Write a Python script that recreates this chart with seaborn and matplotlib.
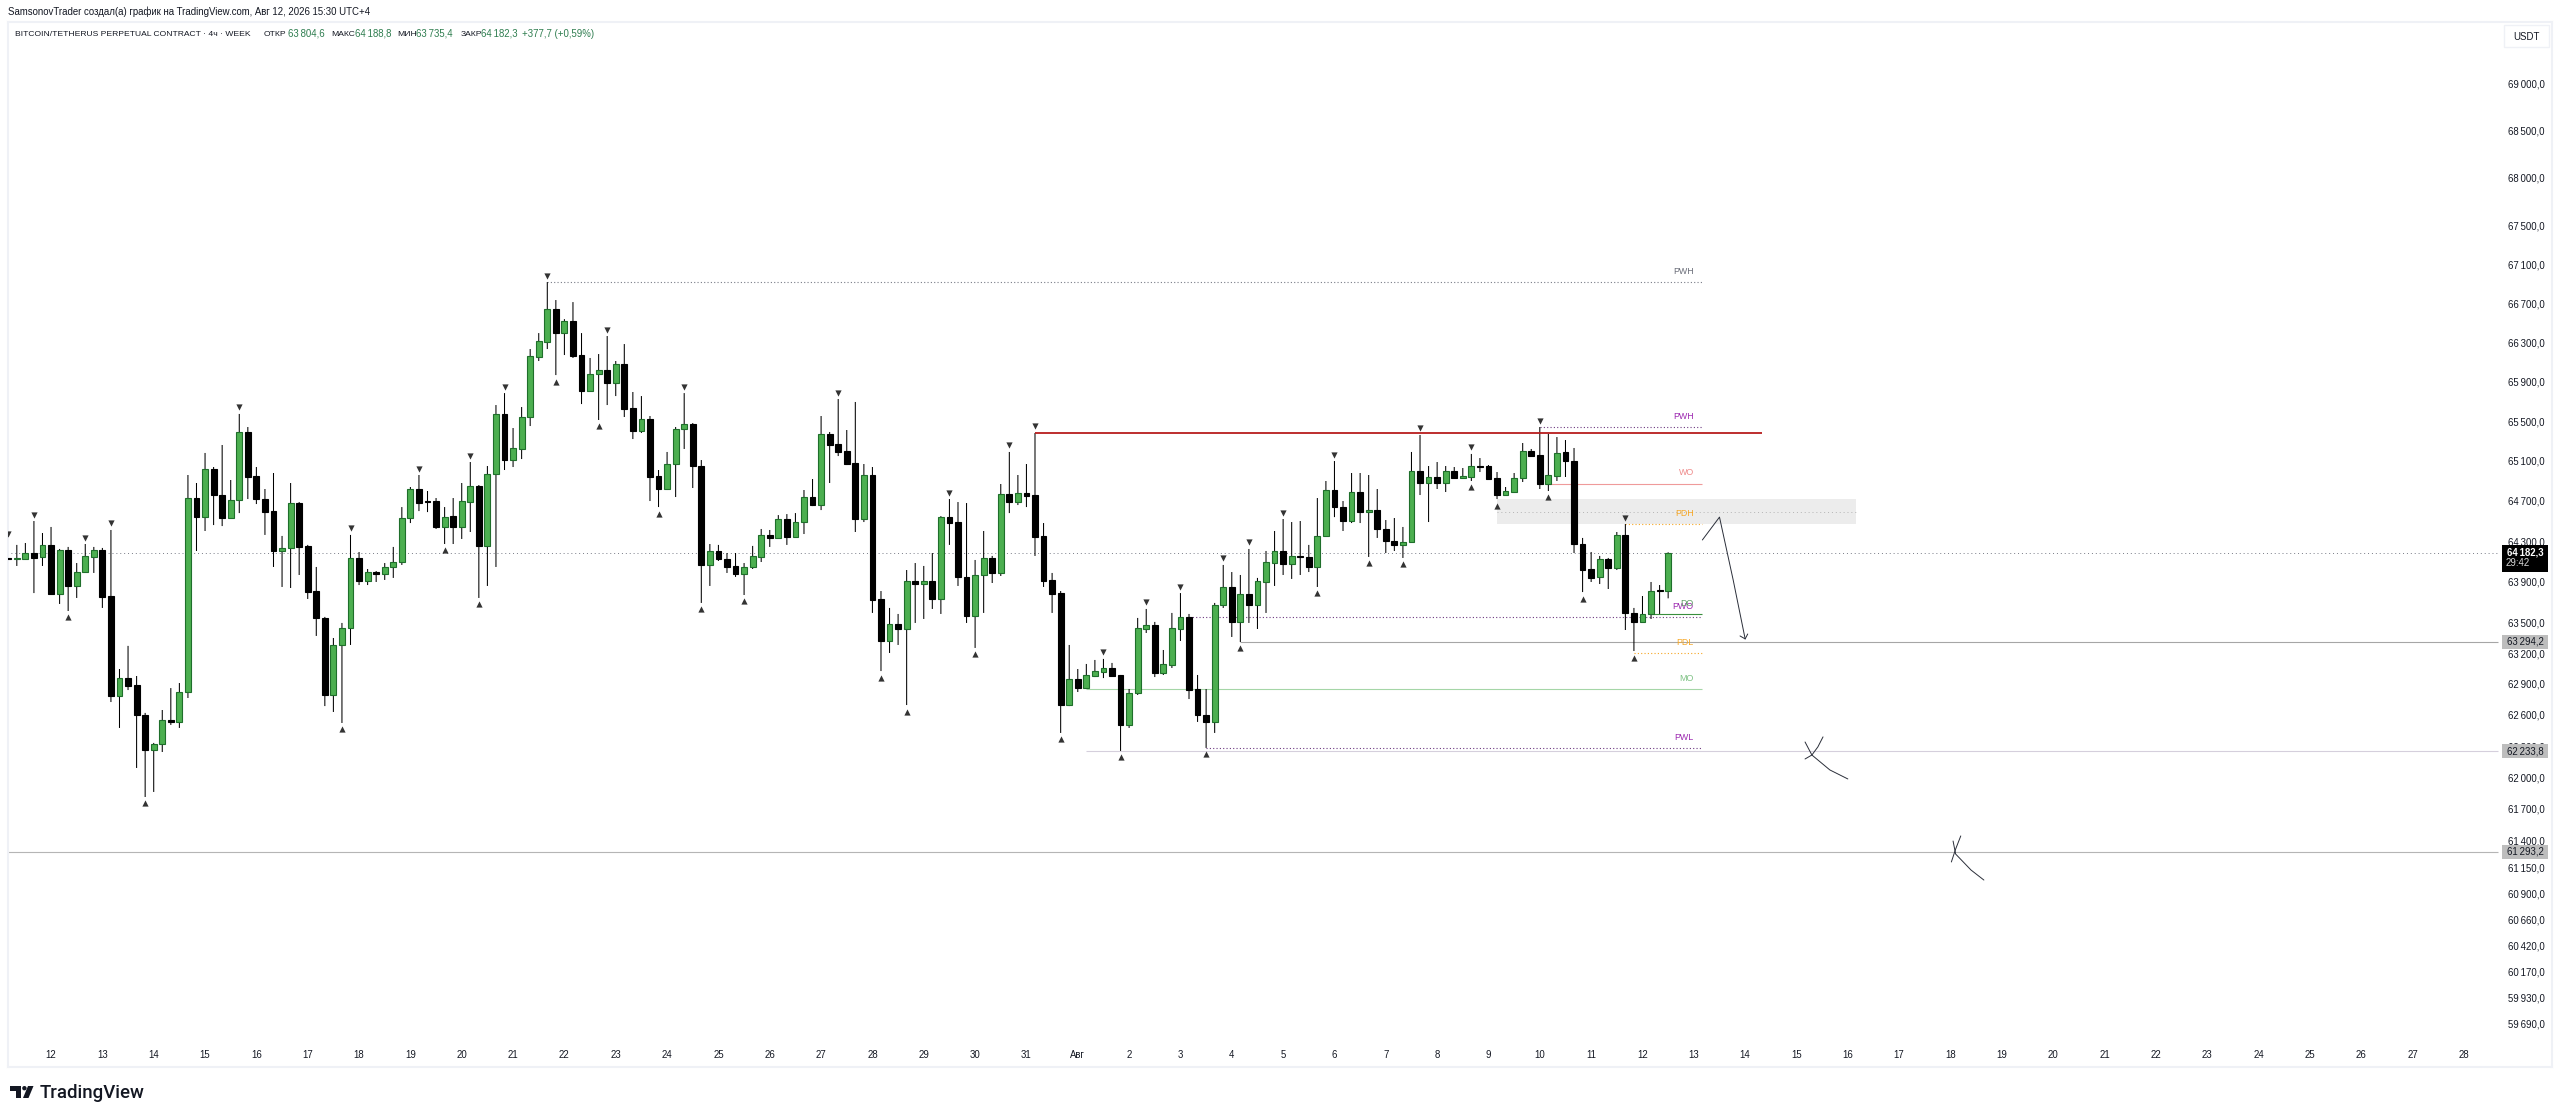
import matplotlib
matplotlib.use("Agg")
import matplotlib.pyplot as plt
from matplotlib.patches import Rectangle, Polygon, Circle
import numpy as np
import pandas as pd
import seaborn as sns

# 4h candles, first one is index -5, index 0 is midnight of the 12th
opens = [64133, 64123, 64123, 64182, 64143, 64262, 63777, 64212, 63857, 63994,
         64143, 64212, 63758, 62783, 62957, 62890, 62600, 62263, 62322, 62552,
         62533, 62822, 64728, 64538, 65018, 64758, 64529, 64708, 65390, 64948,
         64718, 64598, 64202, 64232, 64678, 64252, 63807, 63543, 62793, 63279,
         63445, 64133, 63906, 63994, 63975, 64044, 64093, 64529, 64818, 64698,
         64698, 64440, 64548, 64440, 64688, 64848, 64252, 64968, 65572, 65108,
         65219, 65541, 66150, 66303, 66640, 66394, 66517, 66170, 65804, 65976,
         66017, 65885, 66078, 65632, 65400, 65521, 64948, 64818, 65068, 65420,
         65470, 65048, 64064, 64202, 64123, 64054, 63975, 64044, 64143, 64361,
         64331, 64519, 64341, 64489, 64738, 64658, 65370, 65269, 65199, 65078,
         64519, 64958, 63729, 63318, 63484, 63435, 63906, 63876, 63906, 63729,
         64538, 64489, 63946, 63562, 63965, 64133, 63985, 64768, 64688, 64778,
         64758, 64351, 63916, 63787, 62696, 62948, 62860, 62977, 63016, 63055,
         62987, 62504, 62812, 63435, 63474, 63006, 63084, 63435, 63553, 62851,
         62600, 62533, 63670, 63847, 63504, 63777, 63670, 63896, 64083, 64202,
         64074, 64153, 64143, 64044, 64351, 64808, 64638, 64499, 64788, 64588,
         64608, 64420, 64301, 64262, 64291, 64998, 64878, 64938, 64878, 64998,
         64928, 64938, 65048, 65048, 64928, 64758, 64788, 64928, 65199, 65158,
         64868, 64948, 65189, 65098, 64271, 64024, 63946, 64123, 64034, 64361,
         63592, 63504, 63582, 63817, 63804.6]
highs = [64301, 64262, 64281, 64499, 64380, 64440, 64222, 64242, 64083, 64271,
         64242, 64232, 64410, 63045, 63270, 62977, 62620, 62331, 62648, 62860,
         62909, 64958, 64878, 65179, 65038, 65259, 64908, 65572, 65440, 65038,
         64818, 64978, 64351, 64878, 64688, 64262, 64044, 63553, 63347, 63494,
         64361, 64192, 64024, 64004, 64083, 64242, 64638, 64838, 64958, 64798,
         64728, 64638, 64728, 64878, 65088, 64858, 65048, 65662, 65783, 65430,
         65642, 66231, 66394, 66918, 66733, 66537, 66712, 66394, 66140, 66180,
         66364, 66109, 66282, 65794, 65753, 65551, 65008, 65189, 65440, 65783,
         65480, 65108, 64271, 64262, 64182, 64182, 64083, 64252, 64420, 64410,
         64558, 64568, 64578, 64808, 64918, 65551, 65390, 65723, 65410, 65693,
         65068, 65038, 63807, 63641, 63582, 64014, 64083, 64054, 64182, 64548,
         64718, 64688, 64678, 64113, 64400, 64153, 64868, 65189, 64958, 65068,
         65380, 64479, 63985, 63807, 63279, 63045, 63094, 63133, 63143, 63104,
         62987, 62851, 63543, 63631, 63504, 63230, 63592, 63787, 63582, 62987,
         62851, 63690, 64064, 63994, 63965, 64222, 63936, 64202, 64400, 64519,
         64489, 64499, 64262, 64728, 64898, 65098, 64698, 64978, 64978, 64958,
         64818, 64509, 64529, 64440, 65189, 65360, 65048, 65088, 65048, 65038,
         65028, 65169, 65128, 65058, 64988, 64838, 64978, 65279, 65219, 65440,
         65370, 65339, 65309, 65229, 64331, 64192, 64153, 64133, 64390, 64469,
         63641, 63758, 63896, 63866, 64188.8]
lows = [63955, 64054, 64113, 63787, 64054, 63777, 63680, 63611, 63739, 63985,
        63985, 63641, 62725, 62475, 62841, 62091, 61814, 61862, 62244, 62504,
        62475, 62764, 64202, 64400, 64459, 64449, 64529, 64578, 64718, 64668,
        64361, 64044, 63847, 63837, 63965, 63729, 63367, 62686, 62629, 62523,
        63279, 63866, 63866, 63896, 63916, 63936, 64064, 64479, 64598, 64588,
        64420, 64271, 64271, 64321, 64390, 63739, 63857, 64044, 65008, 65038,
        65118, 65450, 66109, 66231, 65966, 66170, 66140, 65672, 65804, 65511,
        65662, 65753, 65541, 65319, 65380, 64698, 64638, 64808, 64738, 65219,
        64828, 63690, 63857, 64103, 63985, 63946, 63768, 64024, 64093, 64242,
        64321, 64262, 64331, 64370, 64648, 64608, 64878, 65148, 65058, 64390,
        64489, 63592, 63025, 63201, 63279, 62696, 63494, 63533, 63631, 63582,
        64262, 63857, 63494, 63250, 63592, 63886, 63955, 64578, 64658, 64638,
        64153, 63847, 63592, 62427, 62686, 62822, 62860, 62967, 62957, 62977,
        62254, 62475, 62793, 63396, 62967, 62987, 63055, 63318, 62754, 62533,
        62283, 62427, 63641, 63357, 63308, 63494, 63435, 63592, 63857, 63965,
        63926, 63965, 63994, 63847, 64351, 64538, 64400, 64479, 64479, 64143,
        64331, 64182, 64202, 64133, 64281, 64758, 64489, 64818, 64788, 64918,
        64918, 64898, 64988, 64908, 64718, 64758, 64778, 64888, 65148, 64818,
        64798, 64898, 64938, 64182, 63797, 63896, 63876, 63827, 64014, 63425,
        63220, 63504, 63533, 63582, 63735.4]
closes = [64123, 64133, 64182, 64133, 64262, 63777, 64212, 63857, 63994, 64153,
          64212, 63748, 62783, 62957, 62880, 62600, 62263, 62322, 62552, 62533,
          62822, 64728, 64538, 65018, 64758, 64529, 64708, 65390, 64938, 64718,
          64588, 64202, 64232, 64678, 64242, 63797, 63543, 62793, 63279, 63445,
          64133, 63906, 63994, 63975, 64044, 64093, 64529, 64818, 64678, 64688,
          64440, 64538, 64440, 64698, 64848, 64252, 64968, 65572, 65108, 65229,
          65541, 66160, 66313, 66640, 66394, 66517, 66160, 65804, 65976, 66017,
          65885, 66078, 65622, 65400, 65521, 64938, 64818, 65068, 65420, 65470,
          65048, 64064, 64202, 64123, 64044, 63975, 64044, 64153, 64361, 64331,
          64519, 64341, 64489, 64738, 64658, 65370, 65259, 65189, 65068, 64519,
          64958, 63719, 63318, 63484, 63435, 63906, 63876, 63906, 63729, 64538,
          64479, 63946, 63562, 63965, 64133, 63985, 64768, 64688, 64778, 64748,
          64341, 63906, 63777, 62696, 62948, 62860, 62987, 63025, 63055, 62977,
          62504, 62812, 63445, 63474, 63006, 63094, 63445, 63553, 62841, 62600,
          62533, 63670, 63847, 63504, 63777, 63670, 63906, 64093, 64202, 64074,
          64153, 64143, 64044, 64351, 64808, 64638, 64499, 64788, 64588, 64608,
          64420, 64301, 64262, 64291, 64998, 64878, 64938, 64878, 64998, 64928,
          64948, 65048, 65038, 64918, 64758, 64798, 64928, 65199, 65148, 64868,
          64958, 65179, 65098, 64271, 64014, 63936, 64123, 64034, 64361, 63592,
          63504, 63582, 63807, 63807, 64182.3]

swing_highs = [-5, -2, 4, 7, 22, 35, 43, 49, 53, 58, 65, 74, 92, 105, 112, 115, 123, 128,
               132, 137, 140, 144, 150, 160, 166, 174, 184]
swing_lows = [2, 11, 34, 46, 50, 59, 64, 71, 76, 81, 97, 100, 108, 118, 125, 135, 139, 148,
              154, 158, 166, 169, 175, 179, 185]

day_labels = ["12", "13", "14", "15", "16", "17", "18", "19", "20", "21", "22", "23", "24", "25",
              "26", "27", "28", "29", "30", "31", "Авг", "2", "3", "4", "5", "6", "7", "8", "9",
              "10", "11", "12", "13", "14", "15", "16", "17", "18", "19", "20", "21", "22", "23",
              "24", "25", "26", "27", "28"]
price_ticks = [69000, 68500, 68000, 67500, 67100, 66700, 66300, 65900, 65500, 65100, 64700, 64300,
               63900, 63500, 63200, 62900, 62600, 62300, 62000, 61700, 61400, 61150, 60900, 60660,
               60420, 60170, 59930, 59690]

# name, price, first candle, last candle, line colour, label colour, dotted
levels = [
    ("PWH", 66916, 58, 193, "#787b86", "#6a6d78", True),
    ("PWH", 65440, 174, 193, "#6d3a80", "#9c27b0", True),
    ("WO", 64870, 175, 193, "#ef9a9a", "#ef8a8a", False),
    ("PDH", 64465, 184, 193, "#f6a623", "#f6a623", True),
    ("PWO", 63550, 133, 193, "#6d3a80", "#9c27b0", True),
    ("DO", 63580, 187, 193, "#388e3c", "#5c9e63", False),
    ("PDL", 63200, 185, 193, "#f6a623", "#f6a623", True),
    ("MO", 62850, 121, 193, "#a5d6a7", "#7fc285", False),
    ("PWL", 62280, 135, 193, "#6d3a80", "#9c27b0", True),
]
red_line = (65380, 115, 200)
zone = (64470, 64715, 169, 211)
zone_mid = 64592
last_price = 64182.3
drawn_lines = [(63310, 139), (62250, 121), (61293.2, -5)]
tag_labels = ["63\u2009294,2", "62\u2009233,8", "61\u2009293,2"]

arrow_x = [193, 195, 196.6, 198]
arrow_y = [64311, 64538, 63916, 63338]
arrow_tip_x = [197.4, 198, 198.3]
arrow_tip_y = [63367, 63338, 63386]
cross_1a_x = [205, 205.8, 207.9, 210]
cross_1a_y = [62340, 62215, 62072, 61986]
cross_1b_x = [207.1, 206.5, 205.8, 205]
cross_1b_y = [62389, 62293, 62215, 62177]
cross_2a_x = [222.3, 222.6, 224.4, 225.9]
cross_2a_y = [61396, 61273, 61122, 61028]
cross_2b_x = [223.2, 222.6, 222.1]
cross_2b_y = [61444, 61320, 61198]

W, H = 2560, 1117
TEXT = "#131722"
GREEN = "#4caf50"
GREEN_EDGE = "#1f6f2b"
GREEN_TEXT = "#2e7d4f"

sns.set_theme(style="white")
plt.rcParams["font.family"] = ["Liberation Sans", "DejaVu Sans"]

df = pd.DataFrame({"open": opens, "high": highs, "low": lows, "close": closes})
df["idx"] = np.arange(-5, len(df) - 5)
df["up"] = df["close"] >= df["open"]
df = df.set_index("idx", drop=False)

fig = plt.figure(figsize=(W / 100, H / 100), dpi=100, facecolor="white")
ax = fig.add_axes([8 / W, 1 - 1067 / H, (2552 - 8) / W, (1067 - 22) / H])
ax.set_yscale("log")

# wicks first, bodies on top
wicks = ax.vlines(df["idx"], df["low"], df["high"], colors="black", linewidth=0.75, zorder=2)
wicks.set_snap(False)
body_low = df[["open", "close"]].min(axis=1)
body_h = (df["close"] - df["open"]).abs()
ax.bar(df["idx"][df["up"]], body_h[df["up"]], bottom=body_low[df["up"]], width=0.68,
       color=GREEN, edgecolor=GREEN_EDGE, linewidth=0.8, zorder=3)
ax.bar(df["idx"][~df["up"]], body_h[~df["up"]], bottom=body_low[~df["up"]], width=0.68,
       color="black", edgecolor="black", linewidth=0.8, zorder=3)

# swing markers
sns.scatterplot(x=swing_highs, y=df.loc[swing_highs, "high"].values * 1.001, marker="v", s=20,
                color="#333333", linewidth=0, ax=ax, zorder=4)
sns.scatterplot(x=swing_lows, y=df.loc[swing_lows, "low"].values / 1.001, marker="^", s=20,
                color="#333333", linewidth=0, ax=ax, zorder=4)

# levels
ax.fill_between(zone[2:], zone[0], zone[1], color="#ececec", linewidth=0, zorder=1)
ax.hlines(zone_mid, zone[2], zone[3], colors="#b4b4b4", linewidth=0.7, linestyles=(0, (1, 3)), zorder=1.5)
ax.hlines(last_price, -5.1, 286, colors="#787b86", linewidth=0.7, linestyles=(0, (1, 3)), zorder=1.5)
ax.hlines(red_line[0], red_line[1], red_line[2], colors="#b71c1c", linewidth=1.3, zorder=2.5)
for (price, start), col in zip(drawn_lines, ["#a6a6a6", "#d5cfdc", "#b5b5b5"]):
    ax.hlines(price, start, 286, colors=col, linewidth=0.8, zorder=1.5)
for name, price, start, end, col, label_col, dotted in levels:
    ax.hlines(price, start, end, colors=col, linewidth=0.8,
              linestyles=(0, (1, 2)) if dotted else "solid", zorder=1.6)
    ax.annotate(name, xy=(192, price), xytext=(0, 7.9), textcoords="offset points", ha="right",
                va="center", fontsize=6.4, color=label_col, zorder=5)

# hand drawn strokes
for sx, sy in [(arrow_x, arrow_y), (arrow_tip_x, arrow_tip_y), (cross_1a_x, cross_1a_y),
               (cross_1b_x, cross_1b_y), (cross_2a_x, cross_2a_y), (cross_2b_x, cross_2b_y)]:
    sns.lineplot(x=sx, y=sy, sort=False, estimator=None, color="#2a2e39", linewidth=0.7, ax=ax, zorder=4)

ax.set_xlim(-5.03, 292.3)
ax.set_ylim(59295, 69654)
ax.set_xticks(np.arange(len(day_labels)) * 6, labels=day_labels)
ax.yaxis.tick_right()
ax.set_yticks(price_ticks, labels=[f"{v // 1000}\u2009{v % 1000:03d},0" for v in price_ticks])
ax.minorticks_off()
ax.tick_params(axis="x", length=0, pad=-12.5, labelsize=6.9, labelcolor=TEXT)
ax.tick_params(axis="y", length=0, pad=-31.7, labelsize=6.9, labelcolor=TEXT)
ax.set_xlabel("")
ax.set_ylabel("")
for spine in ax.spines.values():
    spine.set_color("#eff1f6")
    spine.set_linewidth(1.5)

# price tags on the axis
trans = ax.get_yaxis_transform()
tag_x = (2502 - 8) / (2552 - 8)
tag_w = 46 / (2552 - 8)
tag_text_x = (2525 - 8) / (2552 - 8)
for (price, _), lab in zip(drawn_lines, tag_labels):
    ax.add_patch(Rectangle((tag_x, price / 1.0011), tag_w, price * 1.0011 - price / 1.0011, transform=trans,
                           facecolor="#bdbdbd", edgecolor="none", zorder=5))
    ax.text(tag_text_x, price, lab, transform=trans, ha="center", va="center", fontsize=6.9,
            color=TEXT, zorder=6)
ax.add_patch(Rectangle((tag_x, last_price / 1.0029), tag_w, last_price * 1.0012 - last_price / 1.0029,
                       transform=trans, facecolor="black", edgecolor="none", zorder=5))
ax.text(tag_text_x, last_price, "64\u2009182,3", transform=trans, ha="center", va="center", fontsize=6.9,
        fontweight="bold", color="white", zorder=6)
ax.text(tag_text_x - 0.0028, last_price / 1.0016, "29:42", transform=trans, ha="center", va="center", fontsize=6.9,
        color="#d8d8d8", zorder=6)


def put(x, y, s, **kw):
    kw.setdefault("fontsize", 6.9)
    kw.setdefault("color", TEXT)
    kw.setdefault("va", "center")
    fig.text(x / W, 1 - y / H, s, **kw)


# header
put(8, 12, "SamsonovTrader создал(а) график на TradingView.com, Авг 12, 2026 15:30 UTC+4")
put(15, 34, "BITCOIN/TETHERUS PERPETUAL CONTRACT · 4ч · WEEK", fontsize=6.1)
put(264, 34, "ОТКР", fontsize=6.1)
put(288, 34, "63\u2009804,6", color=GREEN_TEXT)
put(331, 34, "МАКС", fontsize=6.1)
put(355, 34, "64\u2009188,8", color=GREEN_TEXT)
put(397, 34, "МИН", fontsize=6.1)
put(416, 34, "63\u2009735,4", color=GREEN_TEXT)
put(461, 34, "ЗАКР", fontsize=6.1)
put(481, 34, "64\u2009182,3", color=GREEN_TEXT)
put(522, 34, "+377,7 (+0,59%)", color=GREEN_TEXT)

# currency button
fig.add_artist(Rectangle((2504 / W, 1 - 47 / H), 45 / W, 22 / H, transform=fig.transFigure,
                         facecolor="white", edgecolor="#eff1f6", linewidth=1))
put(2526, 36.5, "USDT", ha="center")

# logo, in pixels measured from the top left
logo = [[(10, 1086), (21, 1086), (21, 1098), (15.5, 1098), (15.5, 1090.5), (10, 1090.5)],
        [(28, 1086), (33.5, 1086), (28.5, 1098), (23, 1098)]]
for pts in logo:
    fig.add_artist(Polygon([(x / W, 1 - y / H) for x, y in pts], closed=True, transform=fig.transFigure,
                           facecolor="#131722", edgecolor="none"))
fig.add_artist(Circle((24.4, H - 1088.2), 2.2, transform=None, facecolor="#131722", edgecolor="none"))
put(40, 1093, "TradingView", fontsize=13.4, fontfamily="Roboto", fontweight="medium", color="#131722")

fig.savefig("out.png", dpi=100, facecolor="white")
